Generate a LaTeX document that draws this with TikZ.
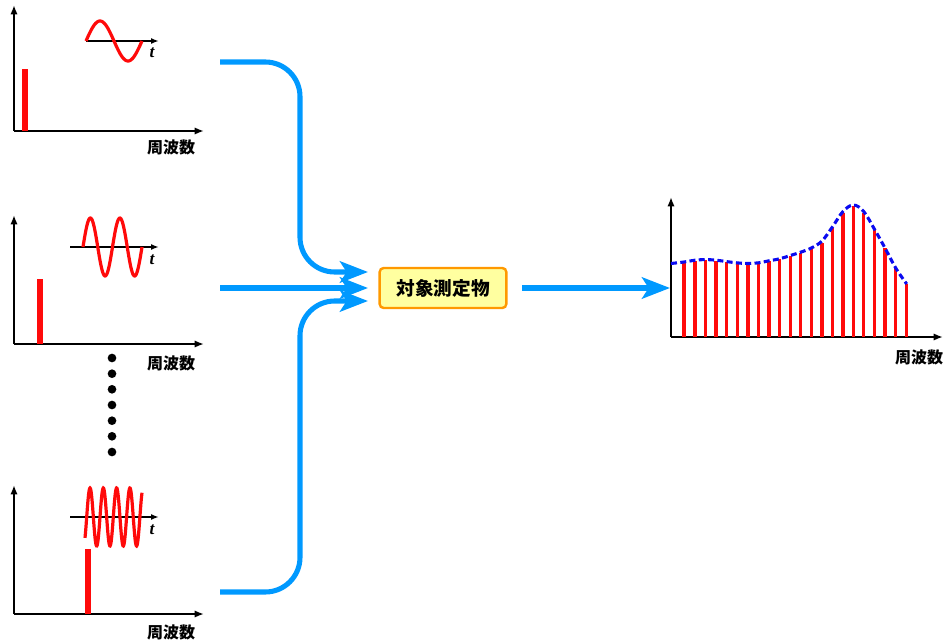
\documentclass[tikz,border=0pt]{standalone}
\usepackage{fontspec}
\newfontfamily\cjk{Noto Sans CJK JP}
\newfontfamily\tfont{Liberation Serif}
\usetikzlibrary{arrows.meta}
\definecolor{flowblue}{RGB}{0,153,255}
\definecolor{boxfill}{RGB}{255,255,160}
\definecolor{boxedge}{RGB}{255,153,0}
\definecolor{specred}{RGB}{255,10,10}
\definecolor{envblue}{RGB}{10,10,240}
\begin{document}
\begin{tikzpicture}[x=0.75pt,y=-0.75pt,
  axis/.style={line width=1.5pt,-{Latex[length=7pt,width=5.5pt]}},
  taxis/.style={line width=1.3pt,-{Latex[length=6pt,width=4.5pt]}},
  wave/.style={specred,line width=2.4pt},
  bigbar/.style={specred,line width=3.8pt},
  thinbar/.style={specred,line width=2.3pt},
  flow/.style={flowblue,line width=3.8pt,-{Stealth[length=21pt,width=16pt,inset=5pt]}},
  lab/.style={font=\cjk\bfseries\fontsize{12}{12}\selectfont,inner sep=0pt},
  tlab/.style={font=\tfont\bfseries\itshape\fontsize{13}{13}\selectfont,inner sep=0pt},
  dot/.style={circle,fill=black,inner sep=0pt,minimum size=6.5pt}]
\useasboundingbox (0,0) rectangle (943,642);

% ---- graph 1
\draw[axis] (14,131) -- (14,5);
\draw[axis] (14,131) -- (204,131);
\draw[bigbar] (25,131) -- (25,69);
\draw[taxis] (86,41) -- (159,41);
\draw[wave] plot[domain=0:56,samples=60,smooth] ({86+\x},{41-20*sin(6.4286*\x)});
\node[tlab] (t1) at (152,53) {t};
\node[lab] (f1) at (171,147) {周波数};

% ---- graph 2
\draw[axis] (14,344) -- (14,215);
\draw[axis] (14,344) -- (204,344);
\draw[bigbar] (40,344) -- (40,279);
\draw[taxis] (70,247) -- (159,247);
\draw[wave] plot[domain=0:59,samples=90,smooth] ({83+\x},{247-29*sin(12.2034*\x)});
\node[tlab] (t2) at (152,260) {t};
\node[lab] (f2) at (171,363) {周波数};

% ---- dots
\foreach \i/\yy in {1/358,2/373.7,3/389.3,4/405,5/420.7,6/436.3,7/452}
  \node[dot] (d\i) at (112,\yy) {};

% ---- graph 3
\draw[axis] (14,614) -- (14,485);
\draw[axis] (14,614) -- (204,614);
\draw[bigbar] (88,614) -- (88,549);
\draw[taxis] (70,517) -- (159,517);
\draw[wave] plot[domain=-1.7:55.3,samples=160,smooth] ({86.7+\x},{517-29*sin(27.0677*\x)});
\node[tlab] (t3) at (152,530) {t};
\node[lab] (f3) at (171,632) {周波数};

% ---- object box
\node[draw=boxedge,fill=boxfill,line width=1.8pt,rounded corners=3pt,
      minimum width=95pt,minimum height=30pt,inner sep=0pt,
      font=\cjk\bfseries\fontsize{14}{14}\selectfont]
      (obj) at (443,288) {対象測定物};

\coordinate (s1) at (220,62);
\coordinate (s2) at (220,288);
\coordinate (s3) at (220,592);
\coordinate (e1) at (368,272);
\coordinate (e2) at (368,288);
\coordinate (e3) at (368,301);
\coordinate (o1) at (522,288);
\coordinate (o2) at (670,288);

\draw[flow,rounded corners=26pt] (s1) -- (300,62) -- (300,272) -- (e1);
\draw[flow] (s2) -- (e2);
\draw[flow,rounded corners=26pt] (s3) -- (300,592) -- (300,301) -- (e3);
\draw[flow] (o1) -- (o2);

% ---- output spectrum
\draw[axis] (671,337) -- (671,197);
\draw[axis] (671,337) -- (943,337);
\foreach \xx/\yy in {684/262.7,695/260.7,705.7/260,716/260.7,726.7/262,737.3/263.3,748/264,758.7/263.3,769/261.3,779.7/259.3,790.3/256,800.7/252.7,811.3/248.7,822/242.7,832.7/228.3,843/213.3,853.3/206,863.7/213.3,874.3/230,885/248.3,895.7/268.3,906.7/284}
  \draw[thinbar] (\xx,337) -- (\xx,\yy);
\draw[envblue,line width=2.3pt,dash pattern=on 4.5pt off 2.5pt] plot[smooth,tension=0.6] coordinates
  {(671,263.5) (684,262) (695,260.2) (705.7,259.6) (716,260.2) (726.7,261.6) (737.3,262.9) (748,263.5) (758.7,262.8) (769,260.8) (779.7,258.8) (790.3,255.5) (800.7,252.2) (811.3,248) (822,241) (832.7,226.5) (843,211.5) (853.3,205) (863.7,211.5) (874.3,229) (885,248) (895.7,268) (906.7,284)};
\node[lab] (f4) at (919,357) {周波数};
\end{tikzpicture}
\end{document}
